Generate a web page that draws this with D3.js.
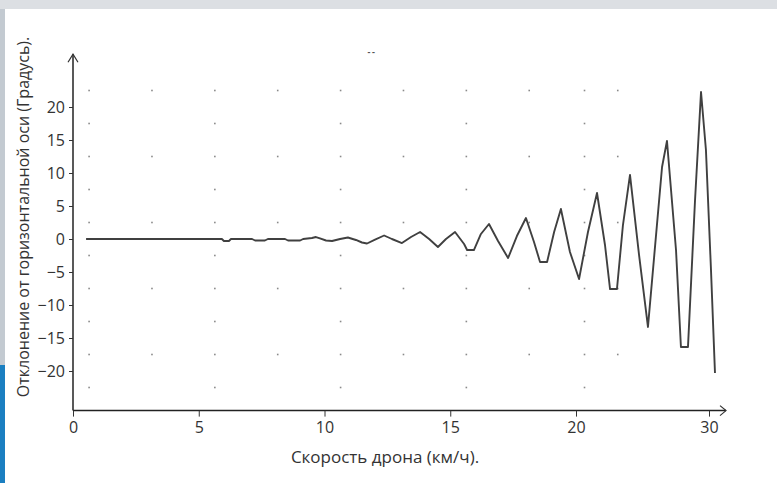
<!DOCTYPE html>
<html><head><meta charset="utf-8">
<script src="https://cdn.jsdelivr.net/npm/d3@7"></script>
<style>
html,body{margin:0;padding:0;background:#fff;}
svg{display:block;}
text{font-family:"Open Sans","DejaVu Sans",sans-serif;}
</style></head>
<body><svg id="c" width="777" height="483"></svg>
<script>
// Speed of drone (km/h)
const speed = [0.52,5.92,6.00,6.20,6.28,7.12,7.24,7.63,7.75,8.43,8.55,9.03,9.15,9.50,9.66,9.82,10.06,10.30,10.62,10.93,11.25,11.49,11.69,12.01,12.37,12.68,13.08,13.44,13.80,14.16,14.51,14.83,15.19,15.55,15.67,15.94,16.22,16.54,16.90,17.30,17.65,18.01,18.33,18.57,18.85,19.13,19.40,19.76,20.23,20.90,21.58,22.18,22.56,23.08,23.53,24.06,24.74,25.41,26.47,26.84,27.52,27.89,28.42,28.95,29.40,29.77,30.15,30.45];
// Deviation from horizontal axis (degrees)
const deviation = [0,0,-0.3,-0.3,0,0,-0.23,-0.23,0,0,-0.23,-0.23,0,0.15,0.3,0.08,-0.23,-0.3,0,0.23,-0.15,-0.53,-0.68,-0.08,0.53,0,-0.61,0.3,1.06,0,-1.21,0,1.06,-0.76,-1.67,-1.67,0.76,2.27,-0.3,-2.88,0.45,3.18,-0.45,-3.48,-3.48,1.06,4.55,-1.97,-6.06,1.06,6.97,-0.91,-7.58,-7.58,2.12,9.70,-2.42,-13.33,10.91,14.85,-1.67,-16.36,-16.36,5.91,22.27,13.48,-4.70,-20.30];
const xTicks = [0,5,10,15,20,30];
const yTicks = [-20,-15,-10,-5,0,5,10,15,20];
const gridCols = [0.64,3.14,5.64,8.14,10.64,13.14,15.64,18.14,20.64,23.14];
const gridRowsFull = [22.5,12.5,2.5,-7.5,-17.5];
const gridRowsHalf = [17.5,7.5,-2.5,-12.5,-22.5];
const title = "--";
const xLabel = "Скорость дрона (км/ч).";
const yLabel = "Отклонение от горизонтальной оси (Градусь).";

const svg = d3.select("#c");
// slide background bits
svg.append("rect").attr("x",0).attr("y",0).attr("width",777).attr("height",9).attr("fill","#dcdfe3");
svg.append("rect").attr("x",0).attr("y",9).attr("width",5).attr("height",356).attr("fill","#c3cad1");
svg.append("rect").attr("x",0).attr("y",365).attr("width",5).attr("height",118).attr("fill","#1b7fc1");

const x = d3.scaleLinear().domain([0,20,30]).range([73,576,709]);
const y = d3.scaleLinear().domain([-26,28]).range([410.6,54.2]);

// grid dots
const dots = [];
gridRowsFull.forEach(r=>gridCols.forEach(c=>dots.push([c,r])));
gridRowsHalf.forEach(r=>gridCols.forEach((c,i)=>{ if(i%2===0) dots.push([c,r]); }));
svg.append("g").selectAll("rect").data(dots).join("rect")
  .attr("x",d=>x(d[0])-0.8).attr("y",d=>y(d[1])-0.8)
  .attr("width",1.6).attr("height",1.6).attr("fill","#8a8a8a");

// axes
const xAxis = svg.append("g").attr("transform",`translate(0,${y(-26)})`)
  .call(d3.axisBottom(x).tickValues(xTicks).tickFormat(d3.format("d")).tickSize(6).tickSizeOuter(0));
xAxis.select(".domain").attr("d",`M${x(0)},0H${x(30)+17}`);
const yAxis = svg.append("g").attr("transform",`translate(${x(0)},0)`)
  .call(d3.axisLeft(y).tickValues(yTicks).tickFormat(d3.format("d")).tickSize(4).tickSizeOuter(0));
yAxis.select(".domain").attr("d",`M0,${y(-26)}V${y(28)}`);
[xAxis,yAxis].forEach(g=>{
  g.selectAll(".domain").attr("stroke","#222").attr("stroke-width",1.5);
  g.selectAll(".tick line").attr("stroke","#333");
  g.selectAll("text").attr("font-size",16).attr("fill","#333");
});
xAxis.selectAll("text").attr("dy","0.85em");
yAxis.selectAll("text").attr("dx","-1px");
// arrowheads
const ax = x(30)+17, ay = y(-26);
svg.append("path").attr("d",`M${ax-6},${ay-5}L${ax},${ay}L${ax-6},${ay+5}`).attr("fill","none").attr("stroke","#333").attr("stroke-width",1.2);
const tx = x(0), ty = y(28);
svg.append("path").attr("d",`M${tx-5},${ty+8}L${tx},${ty}L${tx+5},${ty+8}`).attr("fill","none").attr("stroke","#333").attr("stroke-width",1.2);

// data line
const pts = speed.map((s,i)=>[s,deviation[i]]);
svg.append("path").datum(pts)
  .attr("d",d3.line().x(d=>x(d[0])).y(d=>y(d[1])))
  .attr("fill","none").attr("stroke","#404040").attr("stroke-width",1.9).attr("stroke-linejoin","round");

// labels
svg.append("text").attr("x",372).attr("y",55).attr("text-anchor","middle").attr("font-size",9).attr("font-weight","bold").attr("letter-spacing","1.5px").attr("fill","#555").text(title);
svg.append("text").attr("x",385).attr("y",463).attr("text-anchor","middle").attr("font-size",17).attr("fill","#333").text(xLabel);
svg.append("text").attr("transform","translate(29,217) rotate(-90)").attr("text-anchor","middle").attr("font-size",16).attr("fill","#333").text(yLabel);
</script></body></html>
